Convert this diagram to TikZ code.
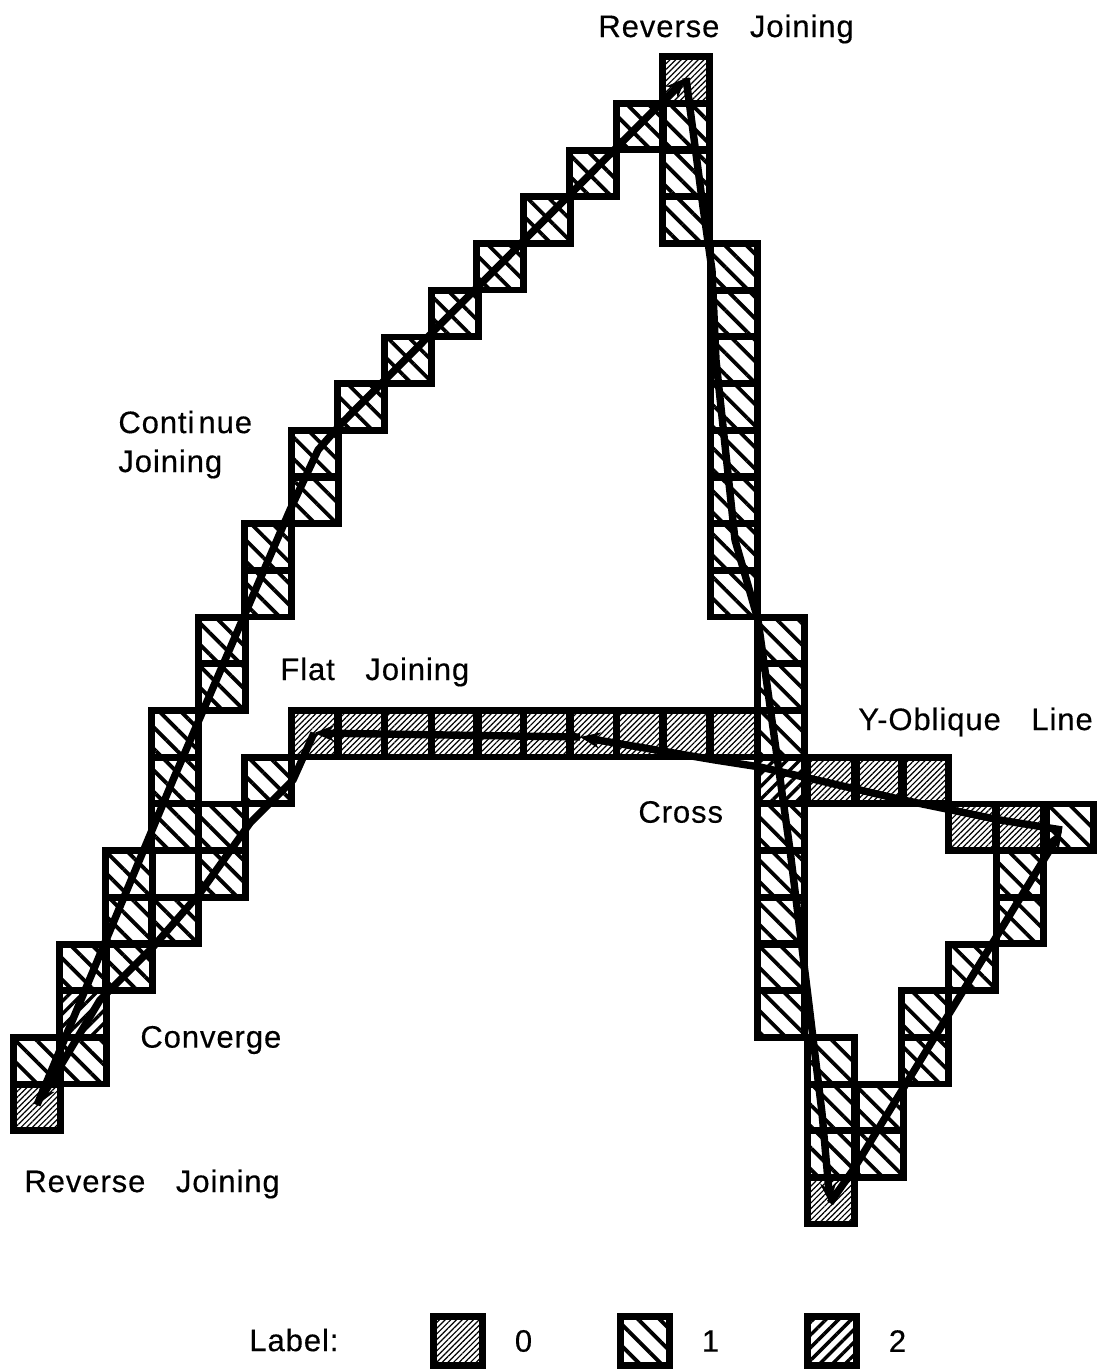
\documentclass[tikz,border=0pt]{standalone}
\usepackage{fontspec}
\setmainfont[LetterSpace=3,WordSpace=3.2,FakeBold=0.4]{Liberation Sans}
\usetikzlibrary{arrows.meta, positioning, patterns.meta}

\begin{document}
\begin{tikzpicture}[
    x=0.5pt, y=-0.5pt,
    node distance=0.4cm,
    cellbox/.style={rectangle, draw=black, line width=3.4pt, inner sep=0pt, outer sep=0pt, minimum size=23.2pt},
    kind0/.style={cellbox, pattern={Lines[angle=45, distance=2pt, line width=0.6pt]}},
    kind1/.style={cellbox, pattern={Lines[angle=-45, distance=7.6pt, line width=1.9pt]}},
    kind2/.style={cellbox, pattern={Lines[angle=45, distance=4.5pt, line width=1.7pt]}},
    lbl/.style={font=\fontsize{15.5}{18}\selectfont, inner sep=0pt, anchor=west},
    stroke/.style={line width=3.7pt, line join=round, draw=black},
    tip/.style={-{Stealth[length=10pt, width=8pt]}}
]
\useasboundingbox (0,0) rectangle (1099,1369);
\def\colx{{37,83,129,175,222,268,315,361,408,455,500,547,593,640,686,734,781,831,880,925,972,1020,1070}}
\foreach \c/\r/\k in {14/0/0, 13/1/1, 14/1/1, 12/2/1, 14/2/1, 11/3/1, 14/3/1, 10/4/1, 15/4/1,
    9/5/1, 15/5/1, 8/6/1, 15/6/1, 7/7/1, 15/7/1, 6/8/1, 15/8/1, 6/9/1, 15/9/1, 5/10/1, 15/10/1,
    5/11/1, 15/11/1, 4/12/1, 16/12/1, 4/13/1, 16/13/1, 3/14/1, 16/14/1,
    6/14/0, 7/14/0, 8/14/0, 9/14/0, 10/14/0, 11/14/0, 12/14/0, 13/14/0, 14/14/0, 15/14/0,
    3/15/1, 5/15/1, 16/15/2, 17/15/0, 18/15/0, 19/15/0,
    3/16/1, 4/16/1, 16/16/1, 20/16/0, 21/16/0, 22/16/1,
    2/17/1, 4/17/1, 16/17/1, 21/17/1, 2/18/1, 3/18/1, 16/18/1, 21/18/1,
    1/19/1, 2/19/1, 16/19/1, 20/19/1, 1/20/2, 16/20/1, 19/20/1,
    0/21/1, 1/21/1, 17/21/1, 19/21/1, 0/22/0, 17/22/1, 18/22/1,
    17/23/1, 18/23/1, 17/24/0} {
  \pgfmathsetmacro{\cx}{\colx[\c]}
  \node (cell\c-\r) [kind\k] at (\cx, 80+46.7*\r) {};
}
\coordinate (revlow) at (37,1105);
\coordinate (revtop) at (686,78);
\coordinate (vbot) at (830,1203);
\coordinate (ytip) at (1062,830);
\coordinate (flatmid) at (580,737);
\coordinate (flatend) at (314,733);
\draw[stroke, tip] (ytip) -- (1000,820) -- (903,800) -- (808,778) -- (760,767) -- (715,760) -- (flatmid);
\draw[stroke, tip] (flatmid) -- (flatend);
\draw[stroke, tip] (flatend) -- (293,780) -- (250,823) -- (200,893) -- (153,947) -- (100,1000) -- (revlow);
\draw[stroke, tip] (revlow) -- (173,780) -- (290,510) -- (318,450) -- (340,425) -- (revtop);
\draw[stroke, tip] (revtop) -- (703,207) -- (712,270) -- (716,360) -- (735,540) -- (758,620) -- (790,850) -- (810,1013) -- (822,1113) -- (vbot);
\draw[stroke, tip] (vbot) -- (853,1170) -- (ytip);
\node (lbrevtop) [lbl] at (598,29) {Reverse Joining};
\node (lbcont) [lbl] at (118,422) {Conti\kern2pt nue};
\node (lbjoin) [lbl] at (118,464) {Joining};
\node (lbflat) [lbl] at (280,672) {Flat Joining};
\node (lbyob) [lbl] at (858,722) {Y-Oblique Line};
\node (lbcross) [lbl] at (638,812) {Cross};
\node (lbconv) [lbl] at (140,1040) {Converge};
\node (lbrevlow) [lbl] at (24,1184) {Reverse Joining};
\node (lblabel) [lbl] at (249,1340) {Label:};
\node (key0) [kind0, minimum size=24.5pt] at (458,1341) {};
\node (key1) [kind1, minimum size=24.5pt] at (645,1341) {};
\node (key2) [kind2, minimum size=24.5pt] at (832,1341) {};
\node (num0) [lbl, right=16pt of key0] {0};
\node (num1) [lbl, right=16pt of key1] {1};
\node (num2) [lbl, right=16pt of key2] {2};
\end{tikzpicture}
\end{document}
